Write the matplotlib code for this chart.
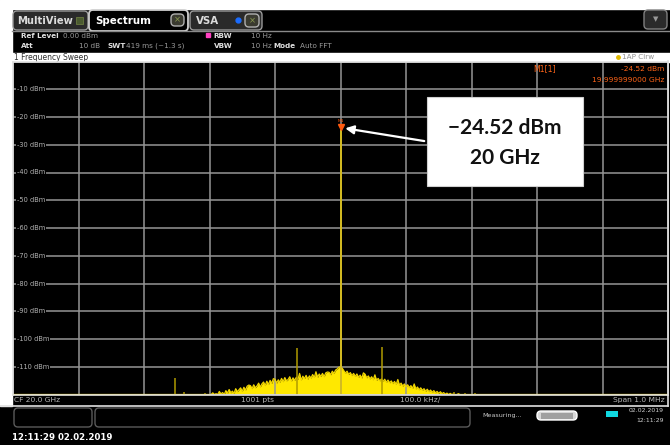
import matplotlib
matplotlib.use('Agg')
import matplotlib.pyplot as plt
from matplotlib.patches import Rectangle, FancyBboxPatch
from matplotlib import transforms

# spectrum data, frequency offset from 20 GHz in kHz, level in dBm
peak_freq = 0.0
peak_level = -24.52

# noise skirt, one value every 2.5 kHz from -200 to +200 kHz
noise_step = 2.5
noise_level = [
    -120, -120, -119.4, -120, -119.7, -120, -118.9, -119.8, -119.3, -120,
    -118.6, -119.5, -118.2, -119.4, -118.8, -119.6, -117.9, -119.0, -118.3, -117.6,
    -118.9, -117.4, -118.4, -117.0, -116.6, -116.8, -117.9, -116.5, -117.6, -116.9,
    -115.9, -117.3, -116.2, -115.5, -116.8, -115.2, -116.4, -114.9, -116.0, -114.3,
    -114.5, -115.9, -114.7, -115.6, -114.2, -115.4, -113.9, -115.1, -114.6, -113.6,
    -115.2, -114.0, -114.9, -113.8, -114.6, -112.4, -114.8, -113.4, -114.3, -113.1,
    -114.5, -113.3, -114.1, -112.8, -113.9, -111.8, -113.8, -112.6, -113.5, -112.4,
    -113.6, -112.2, -111.9, -112.0, -112.9, -111.6, -112.4, -111.2, -110.8, -110.2,
    -110.0,
    -110.5, -111.4, -112.3, -111.6, -112.8, -112.1, -113.2, -112.4, -113.5, -112.6,
    -113.8, -113.0, -114.1, -112.2, -112.7, -114.0, -113.3, -114.4, -113.6, -114.7,
    -112.9, -114.9, -114.2, -115.1, -114.4, -115.3, -114.5, -115.6, -114.8, -115.8,
    -115.1, -116.1, -115.3, -116.4, -114.6, -116.7, -115.9, -117.0, -116.2, -117.2,
    -116.5, -117.5, -116.8, -117.8, -116.2, -118.0, -117.3, -118.3, -117.6, -118.5,
    -117.9, -118.8, -118.1, -119.0, -118.4, -119.2, -118.6, -119.4, -118.9, -119.6,
    -119.0, -119.7, -119.3, -119.9, -119.5, -120, -119.6, -120, -119.8, -120,
    -120, -119.7, -120, -120, -120, -120, -120, -120, -120, -120,
]
noise_freq = [(i - 80) * noise_step for i in range(len(noise_level))]

spur_freq = [-252, -239, -207, -67, 64, 174, 190, 206]
spur_level = [-114.2, -119.0, -119.3, -103.4, -103.0, -119.0, -119.5, -119.3]

span_start, span_stop = -500, 500
ref_level, bottom_level = 0, -120
ytick_values = [-10, -20, -30, -40, -50, -60, -70, -80, -90, -100, -110]

W, H = 670, 445
fig = plt.figure(figsize=(W / 100, H / 100), dpi=100, facecolor='black')

# background layer in pixel coordinates
bg = fig.add_axes([0, 0, 1, 1])
bg.set_xlim(0, W)
bg.set_ylim(H, 0)
bg.axis('off')
bg.set_facecolor('black')
bg.add_patch(Rectangle((0, 0), W, 9, color='white'))
bg.add_patch(Rectangle((0, 0), 12, 406, color='white'))

# tab bar
def tab(x0, x1, y0, y1, fc, ec, lw=1.0):
    bg.add_patch(FancyBboxPatch((x0, y0), x1 - x0, y1 - y0,
                                boxstyle='round,pad=0,rounding_size=4',
                                fc=fc, ec=ec, lw=lw))

bg.plot([12, W], [30.5, 30.5], color='#8a8a8a', lw=1)
tab(13, 88, 11, 30, '#2a2a2a', '#9a9a9a')
tab(89, 188, 10, 31, 'black', '#d0d0d0', 1.3)
tab(190, 262, 11, 30, '#2a2a2a', '#9a9a9a')
bg.text(17, 21, 'MultiView', color='#dcdcdc', fontsize=7.2, fontweight='bold', va='center')
bg.add_patch(Rectangle((76, 17), 7, 7, fc='#4a5a30', ec='#6a7a40', lw=0.6))
bg.text(95, 20.5, 'Spectrum', color='white', fontsize=7.4, fontweight='bold', va='center')
tab(171, 184, 14, 26, '#3a3a30', '#b0b0b0')
bg.text(177.5, 20, '×', color='#8a9a50', fontsize=6, ha='center', va='center')
bg.text(196, 21, 'VSA', color='#dcdcdc', fontsize=7.4, fontweight='bold', va='center')
bg.plot([238], [20], 'o', color='#1a6cff', ms=3.5)
tab(245, 259, 14, 27, '#3a3a30', '#b0b0b0')
bg.text(252, 20.5, '×', color='#8a9a50', fontsize=6, ha='center', va='center')
tab(644, 667, 10, 29, '#2a2a2a', '#808080')
bg.text(655.5, 19.5, '▼', color='#9a9a9a', fontsize=5, ha='center', va='center')

# settings rows
info = dict(fontsize=5.2, va='center')
bg.text(21, 35.5, 'Ref Level', color='#e0e0e0', fontweight='bold', **info)
bg.text(63, 35.5, '0.00 dBm', color='#9a9a9a', **info)
bg.text(21, 45.5, 'Att', color='#e0e0e0', fontweight='bold', **info)
bg.text(100, 45.5, '10 dB', color='#9a9a9a', ha='right', fontsize=5.2, va='center')
bg.text(108, 45.5, 'SWT', color='#e0e0e0', fontweight='bold', **info)
bg.text(126, 45.5, '419 ms (~1.3 s)', color='#9a9a9a', **info)
bg.plot([207.5], [35], 's', color='#ff40c0', ms=2.2)
bg.text(213, 35.5, 'RBW', color='#e0e0e0', fontweight='bold', **info)
bg.text(251, 35.5, '10 Hz', color='#9a9a9a', **info)
bg.text(214, 45.5, 'VBW', color='#e0e0e0', fontweight='bold', **info)
bg.text(251, 45.5, '10 Hz', color='#9a9a9a', **info)
bg.text(273, 45.5, 'Mode', color='#e0e0e0', fontweight='bold', **info)
bg.text(300, 45.5, 'Auto FFT', color='#9a9a9a', **info)

# window title bar
bg.add_patch(Rectangle((12, 53), W - 12, 8.5, color='white'))
bg.text(14, 57.3, '1 Frequency Sweep', color='#303030', fontsize=5.5, va='center')
bg.plot([617.5], [57], 'o', color='#e0b800', ms=2.5)
bg.text(622, 57.3, '1AP Clrw', color='#909090', fontsize=5.2, va='center')

# footer of the diagram
foot = dict(color='#b8b8b8', fontsize=5.4, va='center')
bg.text(14, 400, 'CF 20.0 GHz', **foot)
bg.text(241, 400, '1001 pts', **foot)
bg.text(400, 400, '100.0 kHz/', **foot)
bg.text(665, 400, 'Span 1.0 MHz', ha='right', **foot)
bg.plot([0, 668], [405.5, 405.5], color='#e0e0e0', lw=1.2)
bg.plot([668, 668], [61, 405.5], color='#e0e0e0', lw=1.2)

# status bar
tab(14, 92, 408, 427, 'black', '#5a5a5a')
tab(95, 470, 408, 427, 'black', '#5a5a5a')
bg.text(482, 416, 'Measuring...', color='#c8c8c8', fontsize=4.6, va='center')
tab(537, 577, 411, 420, '#d8d8d8', 'white')
bg.add_patch(Rectangle((541, 412.5), 32, 6, fc='#a0a0a0', ec='none'))
bg.add_patch(Rectangle((606, 411), 12, 6, fc='#10d8e0', ec='none'))
bg.text(664, 411, '02.02.2019', color='#d0d0d0', fontsize=4.4, ha='right', va='center')
bg.text(664, 420, '12:11:29', color='#d0d0d0', fontsize=4.4, ha='right', va='center')
bg.text(12, 437, '12:11:29 02.02.2019', color='white', fontsize=6.2, fontweight='bold', va='center')

# diagram
left, right, top, bottom = 13, 668, 61.5, 394.5
ax = fig.add_axes([left / W, 1 - bottom / H, (right - left) / W, (bottom - top) / H])
ax.set_facecolor('black')
ax.set_xlim(span_start, span_stop)
ax.set_ylim(bottom_level, ref_level)
ax.set_xticks(range(span_start, span_stop + 1, 100))
ax.set_yticks(range(bottom_level, ref_level + 1, 10))
ax.grid(True, color='#969696', lw=1.1)
ax.tick_params(length=0, labelbottom=False, labelleft=False)
for s in ax.spines.values():
    s.set_color('#e0e0e0')
    s.set_linewidth(1.2)

for v in ytick_values:
    ax.text(0.006, v, '%d dBm' % v, transform=ax.get_yaxis_transform(),
            color='#b4b4b4', fontsize=4.8, va='center', ha='left',
            bbox=dict(fc='black', ec='none', pad=0.4))

trace_freq = [span_start] + noise_freq + [span_stop]
trace_level = [bottom_level] + noise_level + [bottom_level]
ax.fill_between(noise_freq, bottom_level, noise_level, color='#ffe800', lw=0)
ax.plot(trace_freq, trace_level, color='#f0d400', lw=0.9, clip_on=False)
ax.vlines(spur_freq, bottom_level, spur_level, color='#b09a00', lw=1.1)
ax.vlines(peak_freq, bottom_level, peak_level, color='#d4bc20', lw=1.4)

# marker M1
mk = transforms.offset_copy(ax.transData, fig=fig, y=3, units='dots')
ax.plot([peak_freq], [peak_level], marker='v', color='#ff5a10', ms=4.5, transform=mk)
mk2 = transforms.offset_copy(ax.transData, fig=fig, y=9, units='dots')
ax.text(peak_freq, peak_level, 'M1', color='#ff5a10', fontsize=3.2, ha='center',
        va='center', transform=mk2)

orange = '#ff6418'
ax.text(0.795, 0.978, 'M1[1]', transform=ax.transAxes, color=orange, fontsize=5.6,
        va='center')
ax.text(0.995, 0.978, '%.2f dBm' % peak_level, transform=ax.transAxes, color=orange,
        fontsize=5.4, ha='right', va='center')
ax.text(0.995, 0.945, '19.999999000 GHz', transform=ax.transAxes, color=orange,
        fontsize=5.4, ha='right', va='center')

# callout box
top_ax = fig.add_axes([0, 0, 1, 1], zorder=5)
top_ax.set_xlim(0, W)
top_ax.set_ylim(H, 0)
top_ax.axis('off')
top_ax.patch.set_alpha(0)
top_ax.add_patch(Rectangle((427, 97), 156, 89, fc='white', ec='#d0d0d0', lw=0.8))
top_ax.text(505, 128, '\u221224.52 dBm', color='#111111', fontsize=15, fontweight='bold',
            family='Lato', ha='center', va='center')
top_ax.text(505, 158, '20 GHz', color='#111111', fontsize=15, fontweight='bold',
            family='Lato', ha='center', va='center')
top_ax.annotate('', xy=(peak_freq + 3, peak_level + 0.6), xycoords=ax.transData,
                xytext=(427, 141.5), textcoords='data',
                arrowprops=dict(arrowstyle='-|>,head_length=0.5,head_width=0.25',
                                color='white', lw=1.6))

fig.savefig('out.png', dpi=100, facecolor='black')
